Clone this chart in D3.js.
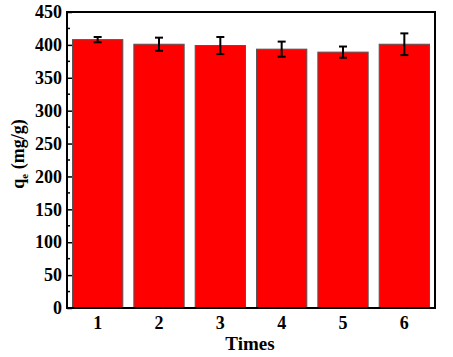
<!DOCTYPE html>
<html><head><meta charset="utf-8">
<script src="https://cdn.jsdelivr.net/npm/d3@7"></script>
<style>body{margin:0;background:#fff}svg{display:block}text{font-family:"Liberation Serif","Times New Roman",serif;font-weight:bold}</style>
</head><body>
<svg id="c" width="453" height="357"></svg>
<script>
const categories = ["1","2","3","4","5","6"];
const values = [408, 401, 399, 393.5, 389, 401];
const errors = [4, 10, 13, 11.5, 8.5, 16.5];
const yTicks = [0,50,100,150,200,250,300,350,400,450];

const svg = d3.select("#c");
const L=67, R=435, T=12, B=308;
const x = d3.scaleBand().domain(categories).range([L,R]).paddingInner(0.18).paddingOuter(0.09);
const y = d3.scaleLinear().domain([0,450]).range([B,T]);

// bars
svg.selectAll("rect.bar").data(values).join("rect")
  .attr("x",(d,i)=>x(categories[i])).attr("width",x.bandwidth())
  .attr("y",d=>y(d)).attr("height",d=>B-y(d))
  .attr("fill","#ff0000").attr("stroke","#555").attr("stroke-width",1);

// error bars
const eg = svg.append("g").attr("stroke","#000").attr("stroke-width",2);
values.forEach((v,i)=>{
  const cx = x(categories[i])+x.bandwidth()/2;
  eg.append("line").attr("x1",cx).attr("x2",cx).attr("y1",y(v+errors[i])).attr("y2",y(v-errors[i]));
  eg.append("line").attr("x1",cx-4).attr("x2",cx+4).attr("y1",y(v+errors[i])).attr("y2",y(v+errors[i]));
  eg.append("line").attr("x1",cx-4).attr("x2",cx+4).attr("y1",y(v-errors[i])).attr("y2",y(v-errors[i]));
});

// y axis ticks inward
const ya = svg.append("g").attr("transform",`translate(${L},0)`)
  .call(d3.axisLeft(y).tickValues(yTicks).tickSize(-5).tickPadding(5));
ya.select(".domain").remove();
ya.selectAll(".tick line").attr("stroke","#000").attr("stroke-width",1.5);
ya.selectAll(".tick text").attr("font-size",18).attr("fill","#000")
  .style("font-family","Liberation Serif").style("font-weight","bold");
// minor ticks
const minor = d3.range(25,450,50);
svg.append("g").selectAll("line").data(minor).join("line")
  .attr("x1",L).attr("x2",L+3).attr("y1",d=>y(d)).attr("y2",d=>y(d))
  .attr("stroke","#000").attr("stroke-width",1.5);

// x axis labels
const xa = svg.append("g").attr("transform",`translate(0,${B})`)
  .call(d3.axisBottom(x).tickSize(0).tickPadding(8));
xa.select(".domain").remove();
xa.selectAll(".tick text").attr("font-size",18).attr("fill","#000")
  .style("font-family","Liberation Serif").style("font-weight","bold");

// frame
svg.append("rect").attr("x",L).attr("y",T).attr("width",R-L).attr("height",B-T)
  .attr("fill","none").attr("stroke","#000").attr("stroke-width",2);

// axis titles
svg.append("text").attr("x",(L+R)/2 - 1).attr("y",350).attr("text-anchor","middle")
  .attr("font-size",19).text("Times");
const yt = svg.append("text").attr("transform","translate(24,154) rotate(-90)")
  .attr("text-anchor","middle").attr("font-size",18);
yt.append("tspan").text("q");
yt.append("tspan").attr("font-size",11).attr("dy",4).text("e");
yt.append("tspan").attr("dy",-4).text(" (mg/g)");
</script>
</body></html>
